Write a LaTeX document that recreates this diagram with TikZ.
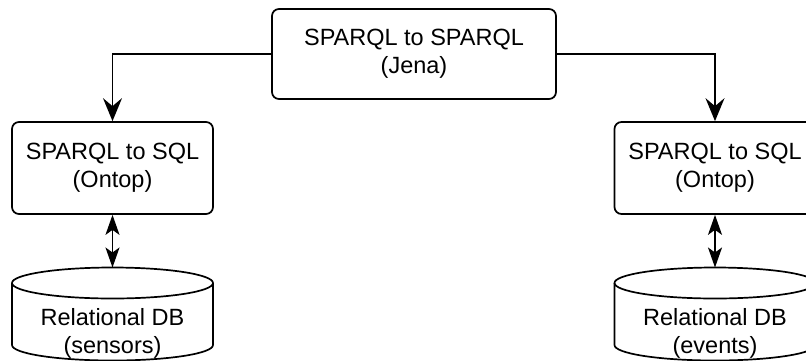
\documentclass[tikz,border=0pt]{standalone}
\usepackage{fontspec}
\setmainfont{Liberation Sans}
\usetikzlibrary{arrows.meta}
\tikzset{
  procbox/.style={draw, line width=1.7pt, rounded corners=7pt, align=center,
    font=\fontsize{23.5pt}{28pt}\selectfont, inner sep=0pt},
  dbtext/.style={align=center, font=\fontsize{23.5pt}{28pt}\selectfont, inner sep=0pt},
  cyl/.style={line width=1.7pt},
  flow/.style={line width=1.7pt, -{Stealth[length=23pt,width=19pt,inset=8pt]}},
  both/.style={line width=1.7pt, {Stealth[length=20pt,width=14pt,inset=5pt]}-{Stealth[length=20pt,width=14pt,inset=5pt]}}
}
\begin{document}
\begin{tikzpicture}[x=1pt,y=-1pt]
\clip (0,0) rectangle (806,360);
\fill[white] (0,0) rectangle (806,360);
% boxes
\node[procbox, minimum width=284pt, minimum height=90pt] (jena) at (414,54) {SPARQL to SPARQL\\(Jena)};
\node[procbox, minimum width=201pt, minimum height=92pt] (ont1) at (112.5,168) {SPARQL to SQL\\(Ontop)};
\node[procbox, minimum width=201pt, minimum height=92pt] (ont2) at (715,168) {SPARQL to SQL\\(Ontop)};
% cylinders
\draw[cyl] (12,283) -- (12,345) arc[start angle=180,end angle=360,x radius=100.5pt,y radius=15.5pt] -- (213,283);
\draw[cyl] (112.5,283) ellipse[x radius=100.5pt,y radius=15.5pt];
\draw[cyl] (614.5,283) -- (614.5,345) arc[start angle=180,end angle=360,x radius=100.5pt,y radius=15.5pt] -- (815.5,283);
\draw[cyl] (715,283) ellipse[x radius=100.5pt,y radius=15.5pt];
\coordinate (db1top) at (112.5,267.5);
\coordinate (db2top) at (715,267.5);
\node[dbtext] (db1) at (112.5,333) {Relational DB\\(sensors)};
\node[dbtext] (db2) at (715,333) {Relational DB\\(events)};
% connectors
\draw[flow] (jena.west) -| (ont1.north);
\draw[flow] (jena.east) -| (ont2.north);
\draw[both] (ont1.south) -- (db1top);
\draw[both] (ont2.south) -- (db2top);
\end{tikzpicture}
\end{document}
